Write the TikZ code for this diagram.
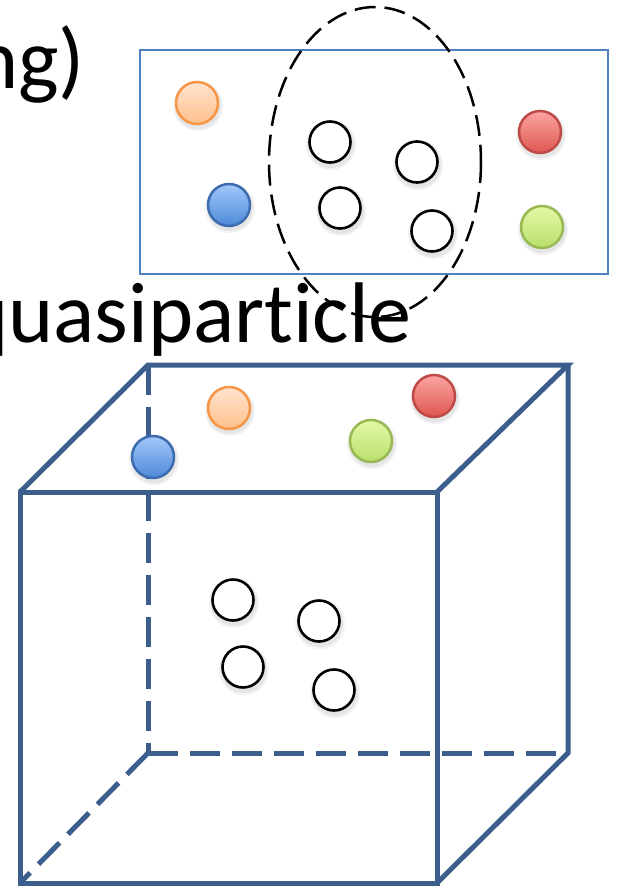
\documentclass[tikz,border=0pt]{standalone}
\usepackage{fontspec}
\setmainfont{Carlito}[Ligatures={NoCommon}]
\begin{document}
\begin{tikzpicture}[x=1pt,y=-1pt,
  cubeline/.style={draw=cubeblue,line width=5pt,line join=miter},
  cubedash/.style={cubeline,dash pattern=on 30pt off 12pt},
  opencirc/.style={draw=black,line width=2.6pt,fill=white},
  ballshade/.style={line width=2.5pt},
  softshadow/.style={fill=black,opacity=0.05},
  bigtext/.style={inner sep=0pt,font=\fontsize{86}{100}\selectfont}]
\definecolor{cubeblue}{HTML}{3B5E8C}
\definecolor{rectblue}{HTML}{4F81BD}
\definecolor{orB}{HTML}{F79646}\definecolor{orT}{HTML}{FFE4D0}\definecolor{orD}{HTML}{FFC08C}
\definecolor{blB}{HTML}{3D6DB0}\definecolor{blT}{HTML}{A3C8FA}\definecolor{blD}{HTML}{4D8AD8}
\definecolor{rdB}{HTML}{BE4B48}\definecolor{rdT}{HTML}{FCA5A3}\definecolor{rdD}{HTML}{E0574F}
\definecolor{grB}{HTML}{98B954}\definecolor{grT}{HTML}{E3F9A8}\definecolor{grD}{HTML}{B9E06A}
\useasboundingbox (0,0) rectangle (618,887);
\fill[white] (0,0) rectangle (618,887);

% texts
\node[bigtext,anchor=base east] (ng) at (85,88) {ng)};
\node[bigtext,anchor=base west] (qp) at (-37,342) {quasiparticle};

% top rectangle
\draw[draw=rectblue,line width=2.4pt] (140,50) rectangle (608,274);

% open circles top
\foreach \x/\y in {330/142,417/162,340/208,432/231}{
  \fill[softshadow] (\x+1,\y+3) circle (25);
  \fill[softshadow] (\x+1,\y+3) circle (23);
  \draw[opencirc] (\x,\y) circle (20.5);
}

% coloured balls top
\foreach \x/\y/\b/\t/\d in {197/103/orB/orT/orD,229/205/blB/blT/blD,540/132/rdB/rdT/rdD,542/227/grB/grT/grD}{
  \fill[softshadow] (\x+1,\y+3) circle (25);
  \fill[softshadow] (\x+1,\y+3) circle (23);
  \shade[ballshade,draw=\b,top color=\t,bottom color=\d] (\x,\y) circle (21);
}

% dashed ellipse
\draw[line width=2.5pt,dash pattern=on 21pt off 9pt] (375,162) ellipse [x radius=106,y radius=155];

% cube
\coordinate (fa) at (20,492);
\coordinate (fb) at (437,492);
\coordinate (fc) at (437,883);
\coordinate (fd) at (20,883);
\coordinate (ba) at (148,365);
\coordinate (bb) at (568,365);
\coordinate (bc) at (568,753);
\coordinate (bd) at (148,753);
\draw[cubedash] (ba) -- (bd);
\draw[cubedash] (bd) -- (bc);
\draw[cubedash] (bd) -- (fd);
\draw[cubeline] (fa) -- (fb) -- (fc) -- (fd) -- cycle;
\draw[cubeline] (fa) -- (ba) -- (bb) -- (fb);
\draw[cubeline] (bb) -- (bc) -- (fc);

% open circles in cube
\foreach \x/\y in {233/600,319/621,243/667,334/690}{
  \fill[softshadow] (\x+1,\y+3) circle (25);
  \fill[softshadow] (\x+1,\y+3) circle (23);
  \draw[opencirc] (\x,\y) circle (20.5);
}

% coloured balls in cube
\foreach \x/\y/\b/\t/\d in {229/408/orB/orT/orD,434/396/rdB/rdT/rdD,371/441/grB/grT/grD,153/457/blB/blT/blD}{
  \fill[softshadow] (\x+1,\y+3) circle (25);
  \fill[softshadow] (\x+1,\y+3) circle (23);
  \shade[ballshade,draw=\b,top color=\t,bottom color=\d] (\x,\y) circle (21);
}
\end{tikzpicture}
\end{document}
